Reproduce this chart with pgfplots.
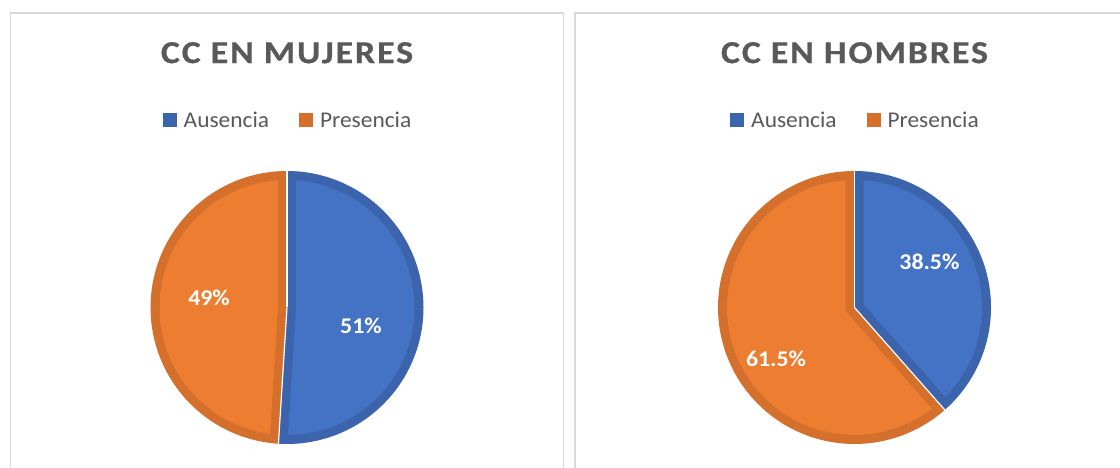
\documentclass[border=0pt]{standalone}
\usepackage{pgfplots}
\pgfplotsset{compat=1.18}
\usepackage{pgfplotstable}
\usepackage{fontspec}
\setmainfont{Carlito}
\definecolor{cBlue}{HTML}{4472C4}
\definecolor{cBlueD}{HTML}{3B64AD}
\definecolor{cOrange}{HTML}{ED7D31}
\definecolor{cOrangeD}{HTML}{D46F2C}
\definecolor{cText}{HTML}{595959}
\definecolor{cFrame}{HTML}{D9D9D9}

\pgfplotstableread{
cat pct
Ausencia 51
Presencia 49
}\mujeres
\pgfplotstableread{
cat pct
Ausencia 38.5
Presencia 61.5
}\hombres

\def\rimw{0.066}
\newcommand{\pieslice}[4]{%
  \pgfmathsetmacro\psA{#1}%
  \pgfmathsetmacro\psB{#2}%
  \pgfmathsetmacro\psR{1-\rimw}%
  \pgfmathsetmacro\psD{asin(\rimw/\psR)}%
  \pgfmathsetmacro\psLo{\psB+\psD}%
  \pgfmathsetmacro\psHi{\psA-\psD}%
  \pgfmathsetmacro\psM{(\psA+\psB)/2}%
  \pgfmathsetmacro\psS{\rimw/sin((\psA-\psB)/2)}%
  \pgfmathsetmacro\psX{\psS*cos(\psM)}%
  \pgfmathsetmacro\psY{\psS*sin(\psM)}%
  \edef\pstmp{%
    \noexpand\addplot[forget plot, fill=#4, draw=none, domain=\psB:\psA, samples=160]
      ({cos(x)},{sin(x)}) -- (axis cs:0,0) -- cycle;
    \noexpand\addplot[forget plot, fill=#3, draw=none, domain=\psLo:\psHi, samples=160]
      ({\psR*cos(x)},{\psR*sin(x)}) -- (axis cs:\psX,\psY) -- cycle;
  }\pstmp
}
\newcommand{\piesep}[1]{%
  \pgfmathsetmacro\spX{cos(#1)}%
  \pgfmathsetmacro\spY{sin(#1)}%
  \edef\sptmp{\noexpand\addplot[forget plot, draw=white, line width=1.2bp] coordinates {(\spX,\spY) (0,0)};}\sptmp
}

\pgfplotsset{
  every axis title shift=0pt,
  piestyle/.style={
    x=136.5bp, y=136.5bp, xmin=-1.05, xmax=1.05, ymin=-1.05, ymax=1.05,
    hide axis, clip=false, anchor=center,
    title style={at={(0.5,1.3526)}, anchor=base, text=cText,
      font={\fontsize{32bp}{38bp}\selectfont\bfseries\addfontfeatures{FakeStretch=1.12,LetterSpace=6,FakeBold=0.6}}},
    legend style={at={(0.5,1.1538)}, anchor=center, draw=none, fill=none,
      legend columns=2, text=cText, inner sep=0pt, outer sep=0pt,
      font={\fontsize{22.5bp}{27bp}\selectfont\addfontfeatures{FakeStretch=1.04}},
      nodes={inner sep=0pt},
      /tikz/every odd column/.style={column sep=7bp},
      /tikz/every even column/.style={column sep=30bp}},
    legend cell align=left,
    legend image code/.code={\fill[##1] (0bp,-7bp) rectangle (14bp,7bp);},
  },
}
\tikzset{lbl/.style={text=white, font={\fontsize{22.5bp}{27bp}\selectfont\bfseries\addfontfeatures{FakeStretch=1.06}}}}

\pgfplotstablegetelem{0}{pct}\of\mujeres \edef\mA{\pgfplotsretval}
\pgfplotstablegetelem{0}{pct}\of\hombres \edef\hA{\pgfplotsretval}
\pgfmathsetmacro\mCut{90-3.6*\mA}
\pgfmathsetmacro\hCut{90-3.6*\hA}

\begin{document}
\begin{tikzpicture}
\useasboundingbox (0,0) rectangle (1120bp,468bp);
\fill[white] (0,0) rectangle (1120bp,468bp);

\begin{axis}[piestyle, at={(287bp,160.5bp)}, title={CC EN MUJERES}]
  \addlegendimage{fill=cBlueD, draw=none}
  \addlegendentry{Ausencia}
  \addlegendimage{fill=cOrangeD, draw=none}
  \addlegendentry{Presencia}
  \pieslice{90}{\mCut}{cBlue}{cBlueD}
  \pieslice{\mCut}{-270}{cOrange}{cOrangeD}
  \piesep{90}
  \piesep{\mCut}
  \node[lbl] at (axis cs:0.542,-0.132) {51\%};
  \node[lbl] at (axis cs:-0.571,0.073) {49\%};
\end{axis}

\begin{axis}[piestyle, at={(854.5bp,160.5bp)}, title={CC EN HOMBRES}]
  \addlegendimage{fill=cBlueD, draw=none}
  \addlegendentry{Ausencia}
  \addlegendimage{fill=cOrangeD, draw=none}
  \addlegendentry{Presencia}
  \pieslice{90}{\hCut}{cBlue}{cBlueD}
  \pieslice{\hCut}{-270}{cOrange}{cOrangeD}
  \piesep{90}
  \piesep{\hCut}
  \node[lbl] at (axis cs:0.549,0.333) {38.5\%};
  \node[lbl] at (axis cs:-0.575,-0.377) {61.5\%};
\end{axis}

\draw[cFrame, line width=1.5bp] (10.5bp,-5bp) |- (563.5bp,455bp) -- (563.5bp,-5bp);
\draw[cFrame, line width=1.5bp] (575bp,-5bp) |- (1130bp,455bp);
\end{tikzpicture}
\end{document}
